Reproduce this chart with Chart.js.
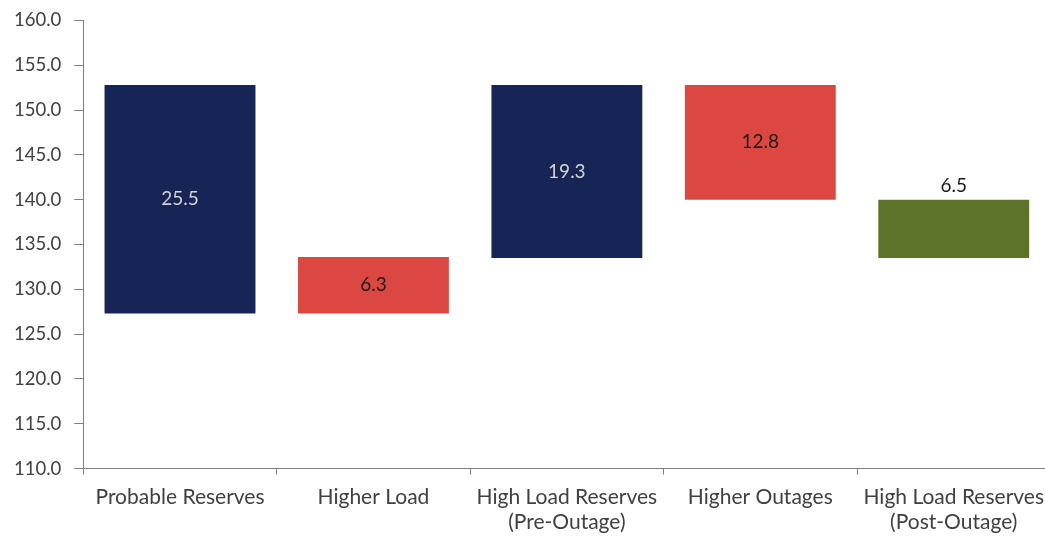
<!DOCTYPE html>
<html>
<head>
<meta charset="utf-8">
<script src="https://cdn.jsdelivr.net/npm/chart.js@4"></script>
<style>
  html, body { margin: 0; padding: 0; background: #ffffff; overflow: hidden; }
  #wrap { width: 1045px; height: 538px; overflow: hidden; }
</style>
</head>
<body>
<div id="wrap"><canvas id="chart" width="1054" height="538"></canvas></div>
<script>
// waterfall data
const categories = [
  'Probable Reserves',
  'Higher Load',
  ['High Load Reserves', '(Pre-Outage)'],
  'Higher Outages',
  ['High Load Reserves', '(Post-Outage)']
];
const starts  = [127.3, 127.3, 133.5, 140.0, 133.5];
const changes = [25.5, 6.3, 19.3, 12.8, 6.5];
const barColors = ['#162556', '#DC4841', '#162556', '#DC4841', '#5D7329'];
const labelColors = ['#d4d4d4', '#1a1a1a', '#d4d4d4', '#1a1a1a', '#1a1a1a'];
const labelInside = [true, true, true, true, false];

const floating = starts.map((s, i) => [s, +(s + changes[i]).toFixed(1)]);

const barLabels = {
  id: 'barLabels',
  afterDatasetsDraw(chart) {
    const { ctx } = chart;
    const meta = chart.getDatasetMeta(0);
    ctx.save();
    ctx.font = '19px Lato, sans-serif';
    ctx.textAlign = 'center';
    meta.data.forEach((bar, i) => {
      const top = Math.min(bar.y, bar.base);
      const bottom = Math.max(bar.y, bar.base);
      ctx.fillStyle = labelColors[i];
      if (labelInside[i]) {
        ctx.textBaseline = 'middle';
        ctx.fillText(changes[i].toFixed(1), bar.x, (top + bottom) / 2);
      } else {
        ctx.textBaseline = 'bottom';
        ctx.fillText(changes[i].toFixed(1), bar.x, top - 4);
      }
    });
    ctx.restore();
  }
};

new Chart(document.getElementById('chart'), {
  type: 'bar',
  data: {
    labels: categories,
    datasets: [{
      data: floating,
      backgroundColor: barColors,
      borderWidth: 0,
      barPercentage: 0.78,
      categoryPercentage: 1
    }]
  },
  options: {
    responsive: false,
    animation: false,
    layout: { padding: { top: 0, left: 1, right: 0, bottom: -7 } },
    plugins: {
      legend: { display: false },
      tooltip: { enabled: false }
    },
    scales: {
      x: {
        grid: { drawOnChartArea: false, tickLength: 6, color: '#808080' },
        border: { color: '#808080' },
        ticks: {
          color: '#404040',
          font: { family: 'Lato, sans-serif', size: 21, lineHeight: 1.2 },
          maxRotation: 0,
          padding: 10
        }
      },
      y: {
        min: 110,
        max: 160,
        grid: { drawOnChartArea: false, tickLength: 9, color: '#808080' },
        border: { color: '#808080' },
        ticks: {
          stepSize: 5,
          color: '#404040',
          font: { family: 'Lato, sans-serif', size: 18.5, lineHeight: 0.8 },
          padding: 13,
          callback: v => v.toFixed(1)
        }
      }
    }
  },
  plugins: [barLabels]
});
</script>
</body>
</html>
